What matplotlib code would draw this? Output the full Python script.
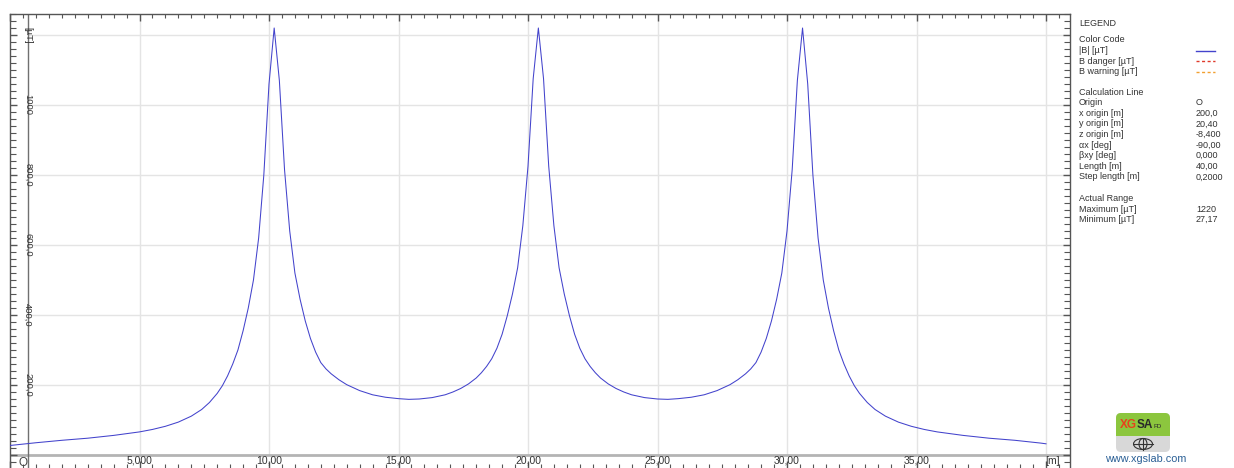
import matplotlib.pyplot as plt
from matplotlib.lines import Line2D
from matplotlib.patches import FancyBboxPatch, Rectangle, Ellipse

plt.rcParams['font.family'] = ['Liberation Sans', 'DejaVu Sans']

# calculation line: distance along line [m] and |B| [uT]
dist_m = [0.0, 1.0, 2.0, 3.0, 4.0, 5.0, 5.5, 6.0, 6.5, 7.0, 7.4, 7.7, 8.0, 8.2, 8.4, 8.6, 8.8, 9.0, 9.2, 9.4,
          9.6, 9.8, 10.0, 10.2,
          10.4, 10.6, 10.8, 11.0, 11.2, 11.4, 11.6, 11.8, 12.0, 12.2, 12.4, 12.7, 13.0, 13.5, 14.0, 14.5,
          15.0, 15.4,
          15.8, 16.3, 16.8, 17.1, 17.4, 17.7, 18.0, 18.2, 18.4, 18.6, 18.8, 19.0, 19.2, 19.4, 19.6, 19.8,
          20.0, 20.2, 20.4,
          20.6, 20.8, 21.0, 21.2, 21.4, 21.6, 21.8, 22.0, 22.2, 22.4, 22.6, 22.8, 23.1, 23.4, 23.7, 24.0,
          24.5, 25.0, 25.4,
          25.8, 26.3, 26.8, 27.3, 27.8, 28.1, 28.4, 28.6, 28.8, 29.0, 29.2, 29.4, 29.6, 29.8, 30.0, 30.2,
          30.4, 30.6,
          30.8, 31.0, 31.2, 31.4, 31.6, 31.8, 32.0, 32.2, 32.4, 32.6, 32.8, 33.1, 33.4, 33.8, 34.3, 34.8,
          35.3, 35.8, 36.8, 37.8, 38.8, 39.8, 40.0]
b_field = [27.2, 35, 42, 48, 56, 66, 73, 82, 94, 111, 130, 150, 176, 198, 226, 260, 300, 355, 420, 500,
           620, 800, 1060, 1220,
           1070, 815, 640, 520, 445, 383, 333, 294, 264, 246, 232, 215, 201, 184, 172, 165,
           161, 159,
           160, 164, 172, 180, 190, 203, 220, 235, 253, 275, 305, 345, 398, 460, 535, 655,
           825, 1075, 1220,
           1075, 825, 655, 535, 460, 398, 345, 305, 275, 253, 235, 220, 203, 190, 180, 172,
           164, 160, 159,
           161, 165, 172, 184, 201, 215, 232, 246, 264, 294, 333, 383, 445, 520, 640, 815,
           1070, 1220,
           1060, 800, 620, 500, 420, 355, 300, 260, 226, 198, 176, 150, 130, 111, 94, 82,
           73, 66, 56, 48, 42, 34, 32]

x_ticks = [5, 10, 15, 20, 25, 30, 35]
x_tick_labels = ['5,000', '10,00', '15,00', '20,00', '25,00', '30,00', '35,00']
y_ticks = [200, 400, 600, 800, 1000, 1200]
y_tick_labels = ['200,0', '400,0', '600,0', '800,0', '1000', '[µT]']

color_codes = ['|B| [µT]', 'B danger [µT]', 'B warning [µT]']
color_styles = [('#4343cc', '-'), ('#e03a2a', '--'), ('#f2a030', '--')]
calc_names = ['Origin', 'x origin [m]', 'y origin [m]', 'z origin [m]', 'αx [deg]', 'βxy [deg]',
              'Length [m]', 'Step length [m]']
calc_values = ['O', '200,0', '20,40', '-8,400', '-90,00', '0,000', '40,00', '0,2000']
range_names = ['Maximum [µT]', 'Minimum [µT]']
range_values = ['1220', '27,17']

W, H = 1234, 468


def fx(px):
    return px / W


def fy(py):
    return 1 - py / H


fig = plt.figure(figsize=(W / 100, H / 100), dpi=100)

# plot area: left spine at px 10, right at px 1070, top at px 14, runs to the bottom edge
ax = fig.add_axes([fx(10), 0, fx(1070) - fx(10), fy(14)])
px_per_m = 25.9
px_per_ut = 0.35
xmax = (1070 - 10) / px_per_m
ax.set_xlim(0, xmax)
ax.set_ylim(-(468 - 455) / px_per_ut, (455 - 14) / px_per_ut)
y_axis_x = 18 / px_per_m

grid_c = '#e4e4e4'
ax.vlines(x_ticks + [40], 0, ax.get_ylim()[1], color=grid_c, lw=1, zorder=0)
ax.hlines(y_ticks, y_axis_x, xmax, color=grid_c, lw=1, zorder=0)
ax.axhline(0, color='#b4b4b4', lw=2, zorder=1)
ax.axvline(y_axis_x, color='#707070', lw=1, zorder=1)

ax.plot(dist_m, b_field, color='#4343cc', lw=0.75, zorder=3)

for s in ['left', 'right', 'top']:
    ax.spines[s].set_color('#555555')
    ax.spines[s].set_linewidth(1)
ax.spines['bottom'].set_visible(False)

ax.set_xticks([x * 0.5 for x in range(0, 82)], minor=True)
ax.set_xticks([x for x in range(0, 41, 5)])
ax.set_yticks([y for y in range(-20, 1261, 20)], minor=True)
ax.set_yticks([y for y in range(0, 1201, 200)])
ax.tick_params(axis='x', which='both', direction='in', top=True, bottom=True,
               labelbottom=False, color='#555555')
ax.tick_params(axis='x', which='major', length=5, width=1)
ax.tick_params(axis='x', which='minor', length=3, width=0.8)
ax.tick_params(axis='y', which='both', direction='in', left=True, right=True,
               labelleft=False, color='#555555')
ax.tick_params(axis='y', which='major', length=5, width=1)
ax.tick_params(axis='y', which='minor', length=4.5, width=0.8)

for x, lab in zip(x_ticks, x_tick_labels):
    ax.text(x, -2, lab, ha='center', va='top', fontsize=7.5, color='#333333')
ax.text(40.25, -2, '[m]', ha='center', va='top', fontsize=7.5, color='#333333')
ax.text(y_axis_x - 0.2, -23, 'O', ha='center', va='center', fontsize=8.5, color='#444444')
for y, lab in zip(y_ticks, y_tick_labels):
    ax.text(y_axis_x, y, lab, rotation=270, ha='center', va='center', fontsize=6.8,
            color='#333333', zorder=4)

# legend panel
tc = '#333333'
fs = 6.5
lx, vx = 1079, 1196
fig.text(fx(lx), fy(24), 'LEGEND', fontsize=fs, color=tc, va='center')
fig.text(fx(lx), fy(40), 'Color Code', fontsize=fs, color=tc, va='center')
for i, (name, (c, ls)) in enumerate(zip(color_codes, color_styles)):
    yy = 50.7 + i * 10.4
    fig.text(fx(lx), fy(yy), name, fontsize=fs, color=tc, va='center')
    fig.add_artist(Line2D([fx(1196), fx(1215)], [fy(yy), fy(yy)], color=c, ls=ls,
                          lw=1, dashes=(2.2, 1.8) if ls == '--' else (None, None)))
fig.text(fx(lx), fy(92.5), 'Calculation Line', fontsize=fs, color=tc, va='center')
for i, (name, val) in enumerate(zip(calc_names, calc_values)):
    yy = 102.7 + i * 10.6
    fig.text(fx(lx), fy(yy), name, fontsize=fs, color=tc, va='center')
    fig.text(fx(vx), fy(yy), val, fontsize=fs, color=tc, va='center')
fig.text(fx(lx), fy(198.3), 'Actual Range', fontsize=fs, color=tc, va='center')
for i, (name, val) in enumerate(zip(range_names, range_values)):
    yy = 209 + i * 10.5
    fig.text(fx(lx), fy(yy), name, fontsize=fs, color=tc, va='center')
    fig.text(fx(vx), fy(yy), val, fontsize=fs, color=tc, va='center')

# logo
lg = fig.add_axes([fx(1116), fy(452), fx(1170) - fx(1116), (452 - 413) / H])
lg.set_xlim(0, 54)
lg.set_ylim(0, 39)
lg.axis('off')
lg.add_patch(FancyBboxPatch((0, 0), 54, 39, boxstyle='round,pad=0,rounding_size=5',
                            fc='#d8d8d8', ec='none'))
lg.add_patch(FancyBboxPatch((0, 16), 54, 23, boxstyle='round,pad=0,rounding_size=5',
                            fc='#8cc63e', ec='none'))
lg.add_patch(Rectangle((0, 16), 54, 6, fc='#8cc63e', ec='none'))
lg.text(4, 27, 'XG', color='#e8401c', fontsize=8.5, fontweight='bold', va='center')
lg.text(20.5, 27, 'SA', color='#2a2a2a', fontsize=8.5, fontweight='bold', va='center')
lg.text(37.5, 26, 'FD', color='#2a2a2a', fontsize=4.5, va='center')
lg.add_patch(Ellipse((27, 8), 19, 11, fc='none', ec='#333333', lw=0.8))
lg.add_patch(Ellipse((27, 8), 8, 11, fc='none', ec='#333333', lw=0.8))
lg.plot([17.5, 36.5], [8, 8], color='#333333', lw=0.8)
lg.plot([27, 27], [2.5, 13.5], color='#333333', lw=0.8)
fig.text(fx(1146), fy(459), 'www.xgslab.com', fontsize=7.8, color='#2a5f95', ha='center', va='center')

fig.savefig('out.png', dpi=100)
